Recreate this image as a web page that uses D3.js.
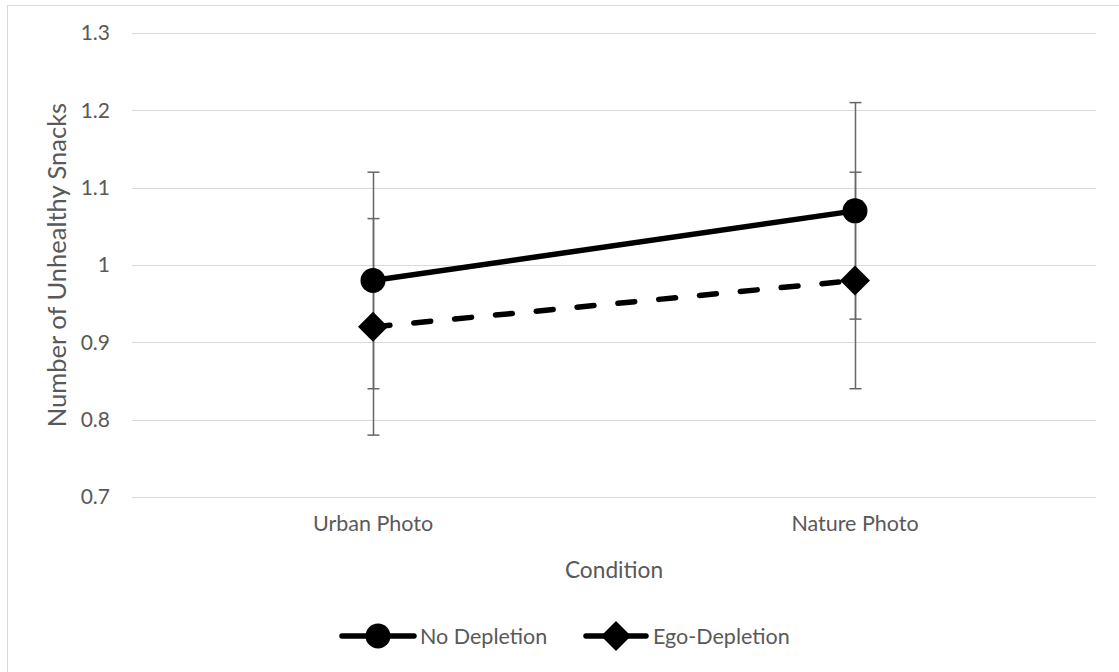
<!DOCTYPE html>
<html>
<head>
<meta charset="utf-8">
<script src="https://cdn.jsdelivr.net/npm/d3@7"></script>
<style>
  html, body { margin: 0; padding: 0; background: #fff; }
  svg { display: block; }
  text { font-family: Lato, "Open Sans", sans-serif; fill: #595959; }
</style>
</head>
<body>
<svg id="chart" width="1119" height="672"></svg>
<script>
// Conditions on the x axis
const categories = ["Urban Photo", "Nature Photo"];
// Mean snack counts per condition
const noDepletion = [0.98, 1.07];
const egoDepletion = [0.92, 0.98];
// Error bar half-widths
const noDepletionErr = [0.14, 0.14];
const egoDepletionErr = [0.14, 0.14];
// Y axis ticks
const yTicks = [0.7, 0.8, 0.9, 1.0, 1.1, 1.2, 1.3];

const seriesList = [
  { name: "No Depletion", values: noDepletion, errs: noDepletionErr, dashed: false, marker: "circle" },
  { name: "Ego-Depletion", values: egoDepletion, errs: egoDepletionErr, dashed: true, marker: "diamond" }
];

const FONT = 'Lato, "Open Sans", sans-serif';
const svg = d3.select("#chart");
const W = 1119, H = 672;
const plot = { left: 132, right: 1096, top: 33, bottom: 497 };

// chart area border
svg.append("rect")
  .attr("x", 7.5).attr("y", 5.5)
  .attr("width", W).attr("height", H)
  .attr("fill", "none").attr("stroke", "#d9d9d9").attr("stroke-width", 1);

const x = d3.scaleBand().domain(categories).range([plot.left, plot.right]);
const y = d3.scaleLinear().domain([0.7, 1.3]).range([plot.bottom, plot.top]);
const cx = c => x(c) + x.bandwidth() / 2;

// gridlines
svg.append("g").selectAll("line").data(yTicks).join("line")
  .attr("x1", plot.left).attr("x2", plot.right)
  .attr("y1", d => Math.round(y(d)) + 0.5).attr("y2", d => Math.round(y(d)) + 0.5)
  .attr("stroke", "#d9d9d9").attr("stroke-width", 1);

// y axis labels
const yAxis = d3.axisLeft(y).tickValues(yTicks).tickSize(0).tickPadding(0)
  .tickFormat(d => d3.format("")(+d.toFixed(1)));
const gy = svg.append("g").attr("transform", `translate(${plot.left - 22},0)`).call(yAxis);
gy.select(".domain").remove();
gy.selectAll("text").attr("font-size", 21).attr("fill", "#595959")
  .style("font-family", FONT);

// x axis labels
const xAxis = d3.axisBottom(x).tickSize(0).tickPadding(0);
const gx = svg.append("g").attr("transform", `translate(0,${plot.bottom + 19})`).call(xAxis);
gx.select(".domain").remove();
gx.selectAll("text").attr("font-size", 21.5).attr("fill", "#595959").attr("dy", "0.71em")
  .style("font-family", FONT);

// axis titles
svg.append("text")
  .attr("x", (plot.left + plot.right) / 2).attr("y", 570).attr("dy", "0.35em")
  .attr("text-anchor", "middle").attr("font-size", 22.7)
  .text("Condition");
svg.append("text")
  .attr("transform", `translate(57,${(plot.top + plot.bottom) / 2}) rotate(-90)`)
  .attr("text-anchor", "middle").attr("dy", "0.35em").attr("font-size", 25.5)
  .text("Number of Unhealthy Snacks");

// error bars
const capW = 6;
seriesList.forEach(s => {
  const g = svg.append("g");
  categories.forEach((c, i) => {
    const px = Math.round(cx(c)) + 0.5;
    const hi = y(s.values[i] + s.errs[i]), lo = y(s.values[i] - s.errs[i]);
    g.append("line").attr("x1", px).attr("x2", px).attr("y1", hi).attr("y2", lo)
      .attr("stroke", "#666").attr("stroke-width", 1.5);
    [hi, lo].forEach(yy => g.append("line")
      .attr("x1", px - capW).attr("x2", px + capW).attr("y1", yy).attr("y2", yy)
      .attr("stroke", "#666").attr("stroke-width", 1.5));
  });
});

const line = d3.line().x((d, i) => cx(categories[i])).y(d => y(d));
const diamondPath = r => `M0,${-r}L${r},0L0,${r}L${-r},0Z`;

function drawMarker(g, type, px, py) {
  if (type === "circle") {
    g.append("circle").attr("cx", px).attr("cy", py).attr("r", 12.5).attr("fill", "#000");
  } else {
    g.append("path").attr("d", diamondPath(15)).attr("transform", `translate(${px},${py})`).attr("fill", "#000");
  }
}

// series lines and markers
seriesList.forEach(s => {
  svg.append("path").datum(s.values)
    .attr("d", line).attr("fill", "none").attr("stroke", "#000")
    .attr("stroke-width", 5.5).attr("stroke-linecap", "round")
    .attr("stroke-dasharray", s.dashed ? "17,24" : null);
  const g = svg.append("g");
  s.values.forEach((v, i) => drawMarker(g, s.marker, cx(categories[i]), y(v)));
});

// legend
const legendItems = [
  { s: seriesList[0], x0: 342, x1: 414, tx: 420 },
  { s: seriesList[1], x0: 586, x1: 646, tx: 653 }
];
const ly = 636;
legendItems.forEach(it => {
  const g = svg.append("g");
  g.append("line").attr("x1", it.x0).attr("x2", it.x1).attr("y1", ly).attr("y2", ly)
    .attr("stroke", "#000").attr("stroke-width", 5.5).attr("stroke-linecap", "round");
  drawMarker(g, it.s.marker, (it.x0 + it.x1) / 2, ly);
  g.append("text").attr("x", it.tx).attr("y", ly).attr("dy", "0.35em")
    .attr("font-size", 21.5).text(it.s.name);
});
</script>
</body>
</html>
